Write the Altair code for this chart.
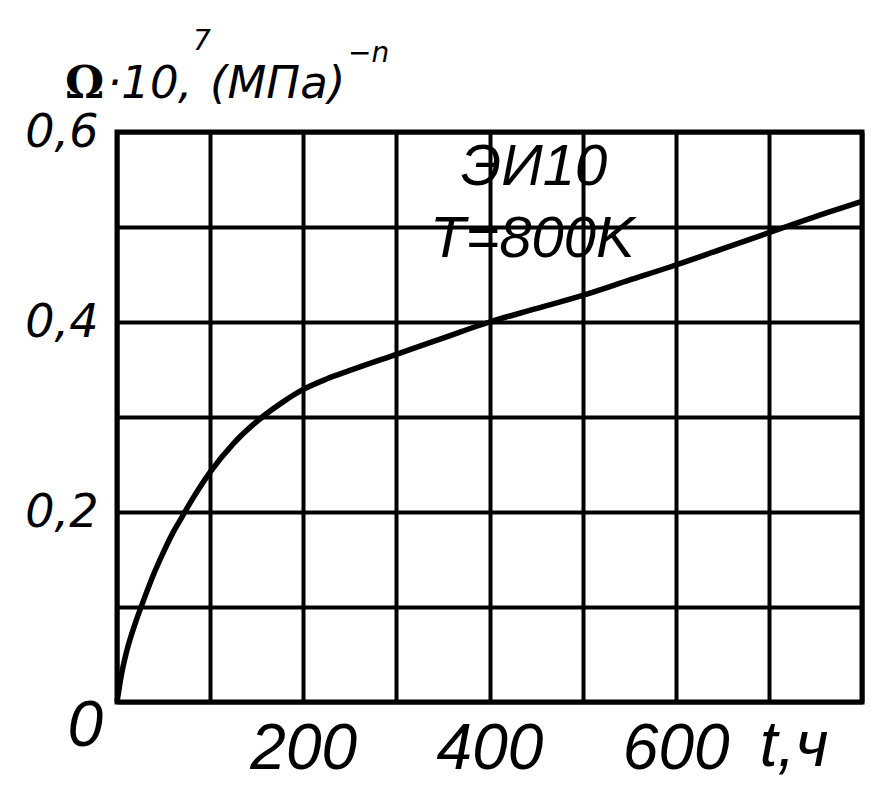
import altair as alt
import pandas as pd

# curve: t (hours) vs Omega*10^7
t_hours = [0, 5, 10, 20, 27, 40, 50, 60, 67, 80, 100, 125, 156, 180, 200, 225, 250, 300, 350, 400, 450, 500, 550, 600, 650, 700, 750, 800]
omega = [0, 0.03, 0.052, 0.084, 0.103, 0.136, 0.158, 0.178, 0.19, 0.212, 0.242, 0.272, 0.3, 0.317, 0.329, 0.34, 0.349, 0.366, 0.383, 0.400, 0.414, 0.428, 0.444, 0.460, 0.477, 0.494, 0.511, 0.527]

x_grid = [0, 100, 200, 300, 400, 500, 600, 700, 800]
y_grid = [0, 0.1, 0.2, 0.3, 0.4, 0.5, 0.6]

# annotation texts with their data-space anchors
ann_text = ["ЭИ10", "T=800K"]
ann_t = [448, 446]
ann_v = [0.562, 0.486]

FONT = "Liberation Sans, DejaVu Sans"
FONT_W = "DejaVu Sans, Liberation Sans"

df = pd.DataFrame({"t": t_hours, "v": omega})

xs = alt.Scale(domain=[0, 800], nice=False, zero=False)
ys = alt.Scale(domain=[0, 0.6], nice=False, zero=False)

base_x = alt.X("t:Q", scale=xs, axis=alt.Axis(
    values=x_grid, grid=True, gridColor="black", gridWidth=4, gridOpacity=1,
    domain=False, ticks=False, title=None,
    labelExpr="(datum.value==200||datum.value==400||datum.value==600) ? datum.label : ''",
    labelFont=FONT, labelFontStyle="italic", labelFontSize=64, labelColor="black",
    labelPadding=15, labelFlush=False, labelOverlap=False, format="d"))
base_y = alt.Y("v:Q", scale=ys, axis=alt.Axis(
    values=y_grid, grid=True, gridColor="black", gridWidth=4, gridOpacity=1,
    domain=False, ticks=False, title=None,
    labelExpr="(datum.value>0.05 && round(datum.value*10)%2==0) ? replace(format(datum.value,'.1f'),'.',',') : ''",
    labelFont=FONT_W, labelFontStyle="italic", labelFontSize=46, labelColor="black",
    labelPadding=19, labelFlush=False, labelOverlap=False, labelBaseline="middle"))

line = alt.Chart(df).mark_line(color="black", strokeWidth=5.5, interpolate="monotone", clip=False).encode(
    x=base_x, y=base_y)

ann = alt.Chart(pd.DataFrame({"t": ann_t, "v": ann_v, "s": ann_text})).mark_text(
    font=FONT, fontStyle="italic", fontSize=58, color="black", align="center", baseline="middle"
).encode(x=alt.X("t:Q", scale=xs), y=alt.Y("v:Q", scale=ys), text="s:N")

# outside-plot labels: "0" corner, "t,ч" axis name
out_df = pd.DataFrame({"t": [-34, 727], "v": [-0.026, -0.047], "s": ["0", "t,ч"]})
outside = alt.Chart(out_df).mark_text(
    font=FONT, fontStyle="italic", fontSize=64, color="black", align="center", baseline="middle", clip=False
).encode(x=alt.X("t:Q", scale=xs), y=alt.Y("v:Q", scale=ys), text="s:N")

# y-axis title pieces: Ω·10^7,(МПа)^-n
omega_df = pd.DataFrame({"t": [-55.8], "v": [0.6358], "s": ["Ω"]})
omega_mark = alt.Chart(omega_df).mark_text(
    font="DejaVu Serif, DejaVu Sans", fontWeight="bold", fontSize=44, color="black",
    align="left", baseline="alphabetic", clip=False
).encode(x=alt.X("t:Q", scale=xs), y=alt.Y("v:Q", scale=ys), text="s:N")

title_df = pd.DataFrame({"t": [-10.7, 65.5, 99.8], "v": [0.6358, 0.6358, 0.6358], "s": ["·10", ",", "(МПа)"]})
title_mark = alt.Chart(title_df).mark_text(
    font=FONT_W, fontStyle="italic", fontSize=45, color="black",
    align="left", baseline="alphabetic", clip=False
).encode(x=alt.X("t:Q", scale=xs), y=alt.Y("v:Q", scale=ys), text="s:N")

sup_df = pd.DataFrame({"t": [81.6, 248], "v": [0.686, 0.6737], "s": ["7", "−n"]})
sup_mark = alt.Chart(sup_df).mark_text(
    font=FONT_W, fontStyle="italic", fontSize=28, color="black",
    align="left", baseline="alphabetic", clip=False
).encode(x=alt.X("t:Q", scale=xs), y=alt.Y("v:Q", scale=ys), text="s:N")

chart = alt.layer(line, ann, outside, omega_mark, title_mark, sup_mark).properties(
    width=745, height=570,
    autosize=alt.AutoSizeParams(type="none"),
    padding={"left": 109, "top": 124, "right": 4, "bottom": 80},
    background="white",
).configure_view(stroke="black", strokeWidth=5)

chart.save("out.html", embed_options={"renderer": "svg", "actions": False})
